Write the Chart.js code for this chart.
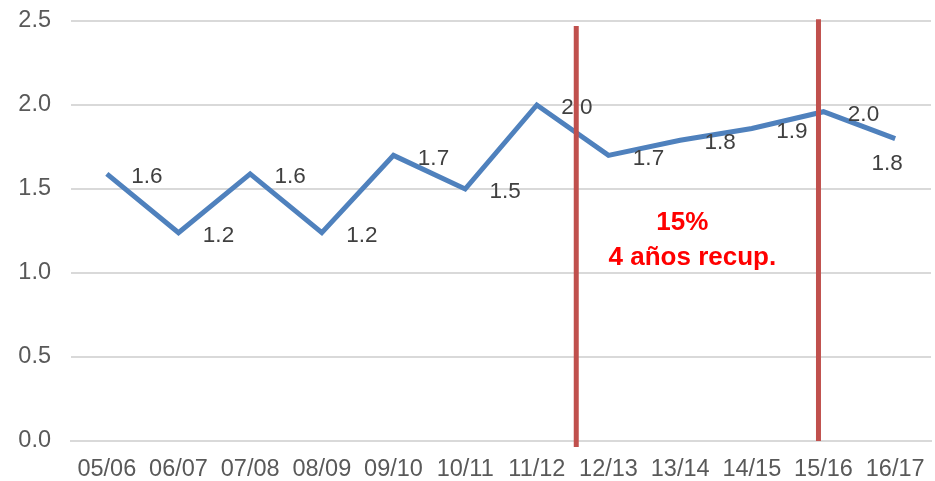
<!DOCTYPE html>
<html>
<head>
<meta charset="utf-8">
<script src="https://cdn.jsdelivr.net/npm/chart.js@4"></script>
<style>
  html, body { margin: 0; padding: 0; background: #fff; }
  #wrap { width: 935px; height: 481px; position: relative; }
</style>
</head>
<body>
<div id="wrap"><canvas id="chart"></canvas></div>
<script>
const categories = ['05/06', '06/07', '07/08', '08/09', '09/10', '10/11', '11/12', '12/13', '13/14', '14/15', '15/16', '16/17'];
const values = [1.59, 1.24, 1.59, 1.24, 1.70, 1.50, 2.00, 1.70, 1.79, 1.86, 1.96, 1.80];
const yTicks = [0, 0.5, 1.0, 1.5, 2.0, 2.5];

// red markers: category index (fractional) and value span
const markerIndex = [6.55, 9.93];
const markerTop = [2.47, 2.51];
const markerBottom = [-0.035, 0];

const noteLines = ['15%', '4 años recup.'];
const noteIndex = [8.03, 8.17];
const noteValue = [1.30, 1.09];

// draws the value labels, the red vertical markers and the note
const extras = {
    id: 'extras',
    afterDatasetsDraw(chart) {
        const { ctx, scales: { x, y } } = chart;
        const meta = chart.getDatasetMeta(0);

        ctx.save();
        ctx.font = '22.5px "Liberation Sans", Arial, sans-serif';
        ctx.fillStyle = '#404040';
        ctx.textAlign = 'center';
        ctx.textBaseline = 'middle';
        meta.data.forEach((pt, i) => {
            const last = i === meta.data.length - 1;
            const dx = last ? -8 : 40;
            const dy = last ? 25 : 3;
            ctx.fillText(values[i].toFixed(1), pt.x + dx, pt.y + dy);
        });

        ctx.strokeStyle = '#C0504D';
        ctx.lineWidth = 5;
        markerIndex.forEach((m, i) => {
            const px = x.getPixelForValue(m);
            ctx.beginPath();
            ctx.moveTo(px, y.getPixelForValue(markerTop[i]));
            ctx.lineTo(px, y.getPixelForValue(markerBottom[i]));
            ctx.stroke();
        });

        ctx.font = 'bold 26px "Liberation Sans", Arial, sans-serif';
        ctx.fillStyle = '#FF0000';
        noteLines.forEach((t, i) => {
            ctx.fillText(t, x.getPixelForValue(noteIndex[i]), y.getPixelForValue(noteValue[i]));
        });
        ctx.restore();
    }
};

const ctx = document.getElementById('chart').getContext('2d');

new Chart(ctx, {
    type: 'line',
    data: {
        labels: categories,
        datasets: [{
            data: values,
            borderColor: '#4F81BD',
            borderWidth: 5,
            pointRadius: 0,
            tension: 0,
            fill: false
        }]
    },
    options: {
        responsive: true,
        maintainAspectRatio: false,
        animation: false,
        layout: { padding: { top: 21, right: 4, left: 0, bottom: 0 } },
        plugins: {
            legend: { display: false },
            tooltip: { enabled: false }
        },
        scales: {
            x: {
                offset: true,
                grid: { display: false },
                border: { display: true, color: '#D9D9D9', width: 2 },
                ticks: {
                    color: '#595959',
                    font: { size: 23.5, family: '"Liberation Sans", Arial, sans-serif' },
                    maxRotation: 0,
                    autoSkip: false,
                    padding: 6
                },
                afterFit(scale) {
                    scale.height = 40;
                    scale.paddingLeft = 0;
                    scale.paddingRight = 0;
                }
            },
            y: {
                min: 0,
                max: 2.5,
                afterBuildTicks(scale) {
                    scale.ticks = yTicks.map(v => ({ value: v }));
                },
                grid: { color: '#D9D9D9', lineWidth: 2, drawTicks: false },
                border: { display: false },
                ticks: {
                    color: '#595959',
                    font: { size: 23.5, family: '"Liberation Sans", Arial, sans-serif' },
                    padding: 20,
                    callback: v => Number(v).toFixed(1)
                },
                afterFit(scale) {
                    scale.width = 71;
                    scale.paddingTop = 0;
                    scale.paddingBottom = 0;
                }
            }
        }
    },
    plugins: [extras]
});
</script>
</body>
</html>
